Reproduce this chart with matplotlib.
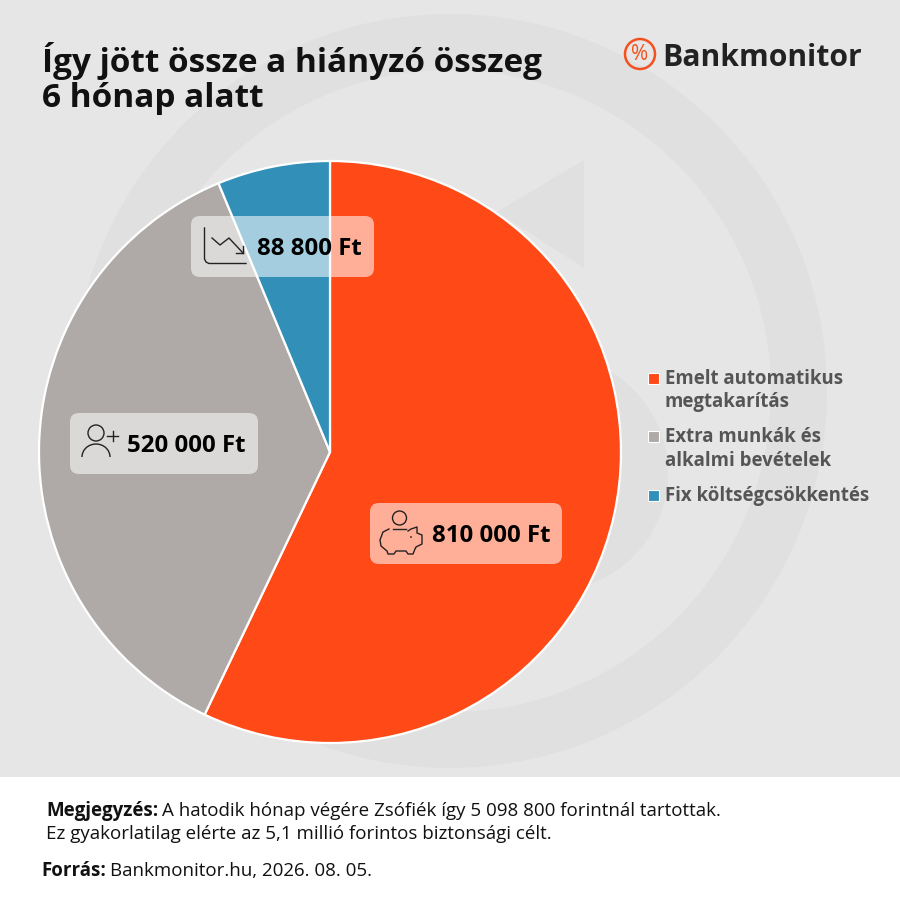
import matplotlib
matplotlib.use("Agg")
import matplotlib.pyplot as plt
from matplotlib.patches import FancyBboxPatch, Rectangle, Circle, Wedge, Polygon, Arc

categories = ["Emelt automatikus\nmegtakarítás", "Extra munkák és\nalkalmi bevételek", "Fix költségcsökkentés"]
values = [810000, 520000, 88800]
value_labels = ["810 000 Ft", "520 000 Ft", "88 800 Ft"]
colors = ["#FF4A17", "#AFAAA8", "#3290B8"]
title_lines = ["Így jött össze a hiányzó összeg", "6 hónap alatt"]
note_bold = "Megjegyzés:"
note_1 = "A hatodik hónap végére Zsófiék így 5 098 800 forintnál tartottak."
note_2 = "Ez gyakorlatilag elérte az 5,1 millió forintos biztonsági célt."
source_bold = "Forrás:"
source = "Bankmonitor.hu, 2026. 08. 05."

plt.rcParams["font.family"] = ["Open Sans", "DejaVu Sans"]
BG = "#E6E6E6"; WM = "#E0E0E0"; INK = "#111111"
fig = plt.figure(figsize=(9, 9), dpi=100, facecolor="white")

def px_axes(z):
    a = fig.add_axes([0, 0, 1, 1], zorder=z)
    a.set_xlim(0, 900); a.set_ylim(900, 0); a.axis("off")
    return a

bg = px_axes(0)
bg.add_patch(Rectangle((0, 0), 900, 777, fc=BG, ec="none"))
# watermark: ring, arrow head and inner disc
bg.add_patch(Wedge((450, 391), 377, 0, 360, width=56, fc=WM, ec="none"))
bg.add_patch(Polygon([[584, 160], [584, 268], [497, 212]], fc=WM, ec="none"))
bg.add_patch(Circle((550, 473), 118, fc=WM, ec="none"))

cx, cy, r = 330, 452, 291
pa = fig.add_axes([(cx - r) / 900, 1 - (cy + r) / 900, 2 * r / 900, 2 * r / 900], zorder=1)
pa.pie(values, colors=colors, startangle=90, counterclock=False,
       wedgeprops=dict(edgecolor="white", linewidth=1.6), radius=1)
pa.set_xlim(-1, 1); pa.set_ylim(-1, 1); pa.axis("off")
for w in pa.patches:
    w.set_clip_on(False)

ov = px_axes(2)

# title
for y, s in zip((72, 107), title_lines):
    ov.text(42, y, s, fontsize=24, fontweight="bold", color=INK, ha="left", va="baseline")

# logo
ov.add_patch(Circle((640, 54), 15, fc="none", ec="#F4511E", lw=1.8))
ov.text(640, 54, "%", fontsize=15, color="#F4511E", ha="center", va="center")
ov.text(662, 66, "Bankmonitor", fontsize=21.7, fontweight="bold", color="#222222", ha="left", va="baseline")

# value pills
pills = [(370, 503, 192, 61, 432), (70, 413, 188, 61, 127), (191, 216, 183, 61, 257)]
for (x, y, w, h, tx), lab in zip(pills, value_labels):
    ov.add_patch(FancyBboxPatch((x + 9, y + 9), w - 18, h - 18, boxstyle="round,pad=9,rounding_size=9",
                                fc="white", ec="none", alpha=0.56))
    ov.text(tx, y + h / 2 + 2.5, lab, fontsize=17.3, fontweight="bold", color="black", ha="left", va="center")

lw = 1.0; ic = "#222222"
# piggy icon
ov.add_patch(Circle((399.5, 518), 7, fc="none", ec=ic, lw=lw))
ov.plot([393, 406], [529, 529], color=ic, lw=lw)
ov.plot([389, 383, 380, 381, 387, 388, 394, 396, 406, 408, 413, 415, 416, 422, 422, 417, 417, 411, 408],
        [529, 532, 540, 546, 551, 554, 554, 551, 551, 554, 554, 549, 547, 544, 535, 533, 527, 529, 531], color=ic, lw=lw)
ov.add_patch(Circle((411, 537), 0.9, fc=ic, ec="none"))
# person icon
ov.add_patch(Circle((96, 433), 8, fc="none", ec=ic, lw=lw))
ov.add_patch(Arc((96, 457), 28, 26, theta1=180, theta2=360, ec=ic, lw=lw))
ov.plot([107, 118], [436, 436], color=ic, lw=lw)
ov.plot([112.5, 112.5], [431, 441], color=ic, lw=lw)
# trend icon
ov.plot([204.5, 204.5, 206, 209, 246], [228, 259, 262, 263.5, 263.5], color=ic, lw=lw)
ov.plot([212, 220, 229, 243], [238, 245, 238, 253], color=ic, lw=lw)
ov.plot([243, 243], [246, 253], color=ic, lw=lw)
ov.plot([236, 243], [253, 253], color=ic, lw=lw)

# legend
leg_y = [(378, 402), (436, 460), (495,)]
for col, cat, ys in zip(colors, categories, leg_y):
    ov.add_patch(Rectangle((648, ys[0] - 5.5), 11, 11, fc=col, ec="white", lw=0.8))
    for y, line in zip(ys, cat.split("\n")):
        ov.text(665, y + 0.5, line, fontsize=13.45, fontweight="bold", color="#555555", ha="left", va="center")

# footer
fig.canvas.draw()
rend = fig.canvas.get_renderer()
def mixed(x, y, b, t):
    tb = ov.text(x, y, b, fontsize=13.5, fontweight="bold", color=INK, ha="left", va="center")
    wpx = tb.get_window_extent(rend).width
    ov.text(x + wpx + 4, y, t, fontsize=13.5, color=INK, ha="left", va="center")
mixed(46, 811, note_bold, note_1)
ov.text(46, 834, note_2, fontsize=13.5, color=INK, ha="left", va="center")
mixed(41, 871, source_bold, source)

fig.savefig("out.png", dpi=100, facecolor="white")
